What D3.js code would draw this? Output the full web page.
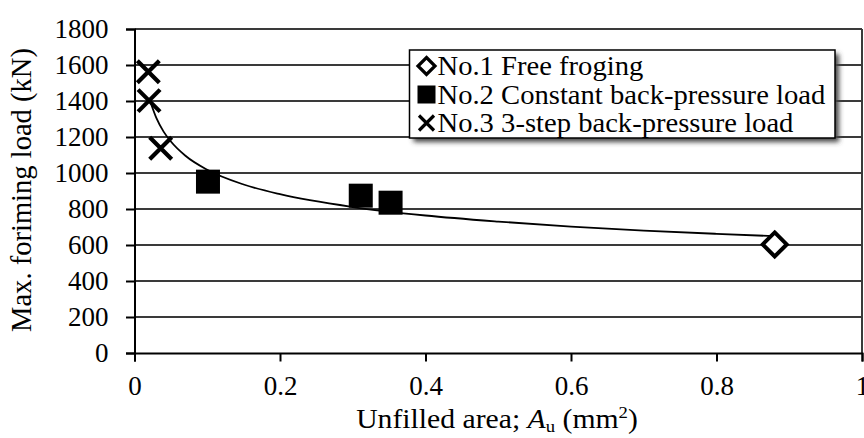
<!DOCTYPE html>
<html>
<head>
<meta charset="utf-8">
<script src="https://cdn.jsdelivr.net/npm/d3@7"></script>
<style>
  body { margin: 0; background: #fff; }
</style>
</head>
<body>
<div id="container"></div>
<script>
// Data
const freeForging = [{x: 0.88, y: 603}];
const constantBack = [{x: 0.101, y: 952}, {x: 0.311, y: 874}, {x: 0.352, y: 835}];
const stepBack = [{x: 0.019, y: 1563}, {x: 0.020, y: 1402}, {x: 0.036, y: 1137}];
// fitted curve, points
const curveX = [0.022, 0.03, 0.04, 0.05, 0.07, 0.1, 0.15, 0.2, 0.3, 0.4, 0.5, 0.6, 0.7, 0.8, 0.88];
const curveY = [1393, 1306, 1230, 1175, 1096, 1018, 936, 882, 811, 764, 730, 702, 680, 662, 649];
const xTicks = [0, 0.2, 0.4, 0.6, 0.8, 1];
const yTicks = [0, 200, 400, 600, 800, 1000, 1200, 1400, 1600, 1800];
const legendLabels = ["No.1 Free froging", "No.2 Constant back-pressure load", "No.3 3-step back-pressure load"];

//Create dimensions
const width = 864;
const height = 438;
const margin = {left: 134.5, right: 2, top: 29, bottom: 85};
const font = "'Liberation Serif', 'Times New Roman', serif";
const fontSize = 27;

const svg = d3.select("#container")
    .append("svg")
    .attr("width", width)
    .attr("height", height)
    .style("display", "block");

const x = d3.scaleLinear().domain([0, 1]).range([margin.left, width - margin.right]);
const y = d3.scaleLinear().domain([0, 1800]).range([height - margin.bottom, margin.top]);

// shadow filter for legend
const defs = svg.append("defs");
defs.append("filter").attr("id", "shadow")
    .attr("x", "-10%").attr("y", "-20%").attr("width", "130%").attr("height", "150%")
    .append("feGaussianBlur").attr("stdDeviation", 2.5);

// grid lines
svg.append("g")
    .selectAll("line")
    .data(yTicks.filter(d => d > 0))
    .join("line")
    .attr("x1", x(0))
    .attr("x2", x(1))
    .attr("y1", d => y(d))
    .attr("y2", d => y(d))
    .attr("stroke", "#3a3a3a")
    .attr("stroke-width", 2);

// right border
svg.append("line")
    .attr("x1", x(1)).attr("x2", x(1))
    .attr("y1", y(1800)).attr("y2", y(0))
    .attr("stroke", "#3a3a3a")
    .attr("stroke-width", 2);

// y axis
const yAxis = svg.append("g")
    .attr("transform", `translate(${x(0)},0)`)
    .call(d3.axisLeft(y).tickValues(yTicks).tickSize(8.5).tickPadding(17.5).tickFormat(d3.format("d")));
yAxis.select(".domain").attr("stroke", "#000").attr("stroke-width", 2);
yAxis.selectAll(".tick line").attr("stroke", "#000").attr("stroke-width", 2);
yAxis.selectAll(".tick text")
    .style("font-family", font)
    .style("font-size", fontSize + "px")
    .attr("fill", "#000");

// x axis
const xAxis = svg.append("g")
    .attr("transform", `translate(0,${y(0)})`)
    .call(d3.axisBottom(x).tickValues(xTicks).tickSize(8.5).tickPadding(14).tickFormat(d => d === 0 || d === 1 ? d3.format("d")(d) : d3.format(".1f")(d)));
xAxis.select(".domain").attr("stroke", "#000").attr("stroke-width", 2);
xAxis.selectAll(".tick line").attr("stroke", "#000").attr("stroke-width", 2);
xAxis.selectAll(".tick text")
    .style("font-family", font)
    .style("font-size", fontSize + "px")
    .attr("fill", "#000");

// fitted curve
const curve = curveX.map((d, i) => ({x: d, y: curveY[i]}));
svg.append("path")
    .datum(curve)
    .attr("fill", "none")
    .attr("stroke", "#000")
    .attr("stroke-width", 1.8)
    .attr("d", d3.line().x(d => x(d.x)).y(d => y(d.y)).curve(d3.curveMonotoneX));

// markers
function diamond(g, s, sw) {
    g.append("path")
        .attr("d", `M0,${-s}L${s},0L0,${s}L${-s},0Z`)
        .attr("fill", "#fff").attr("stroke", "#000").attr("stroke-width", sw);
}
function square(g, s) {
    g.append("rect")
        .attr("x", -s).attr("y", -s).attr("width", 2 * s).attr("height", 2 * s)
        .attr("fill", "#000");
}
function cross(g, s, sw) {
    g.append("path")
        .attr("d", `M${-s},${-s}L${s},${s}M${s},${-s}L${-s},${s}`)
        .attr("stroke", "#000").attr("stroke-width", sw).attr("fill", "none");
}

svg.append("g").selectAll("g").data(freeForging).join("g")
    .attr("transform", d => `translate(${x(d.x)},${y(d.y)})`)
    .each(function() { diamond(d3.select(this), 12, 4); });
svg.append("g").selectAll("g").data(constantBack).join("g")
    .attr("transform", d => `translate(${x(d.x)},${y(d.y)})`)
    .each(function() { square(d3.select(this), 12); });
svg.append("g").selectAll("g").data(stepBack).join("g")
    .attr("transform", d => `translate(${x(d.x)},${y(d.y)})`)
    .each(function() { cross(d3.select(this), 11, 4.2); });

// legend
const legend = svg.append("g").attr("id", "legend");
const lx = 409.5, ly = 50, lw = 425.5, lh = 88;
legend.append("rect")
    .attr("x", lx + 4).attr("y", ly + 4).attr("width", lw).attr("height", lh)
    .attr("fill", "#444").attr("filter", "url(#shadow)");
legend.append("rect")
    .attr("x", lx).attr("y", ly).attr("width", lw).attr("height", lh)
    .attr("fill", "#fff").attr("stroke", "#000").attr("stroke-width", 1.5);

const items = legend.selectAll("g.item")
    .data(legendLabels)
    .join("g")
    .attr("class", "item")
    .attr("transform", (d, i) => `translate(${lx + 17},${ly + 16 + i * 28.5})`);
items.each(function(d, i) {
    const g = d3.select(this);
    if (i === 0) diamond(g, 8.5, 3.2);
    if (i === 1) square(g, 9);
    if (i === 2) cross(g, 7.5, 3.2);
});
items.append("text")
    .attr("transform", "translate(11,9) scale(1.06,1)")
    .style("font-family", font)
    .style("font-size", fontSize + "px")
    .attr("fill", "#000")
    .text(d => d);

// axis titles
svg.append("text")
    .attr("transform", "translate(31,190) rotate(-90) scale(1.02,1.08)")
    .attr("text-anchor", "middle")
    .style("font-family", font)
    .style("font-size", "28px")
    .text("Max. foriming load (kN)");

const xt = svg.append("text")
    .attr("transform", "translate(497,428) scale(1.1,1)")
    .attr("text-anchor", "middle")
    .style("font-family", font)
    .style("font-size", fontSize + "px");
xt.append("tspan").text("Unfilled area; ");
xt.append("tspan").attr("font-style", "italic").text("A");
xt.append("tspan").style("font-size", "17px").attr("dy", 4).text("u");
xt.append("tspan").attr("dy", -4).text(" (mm");
xt.append("tspan").style("font-size", "17px").attr("dy", -10).text("2");
xt.append("tspan").attr("dy", 10).text(")");
</script>
</body>
</html>
